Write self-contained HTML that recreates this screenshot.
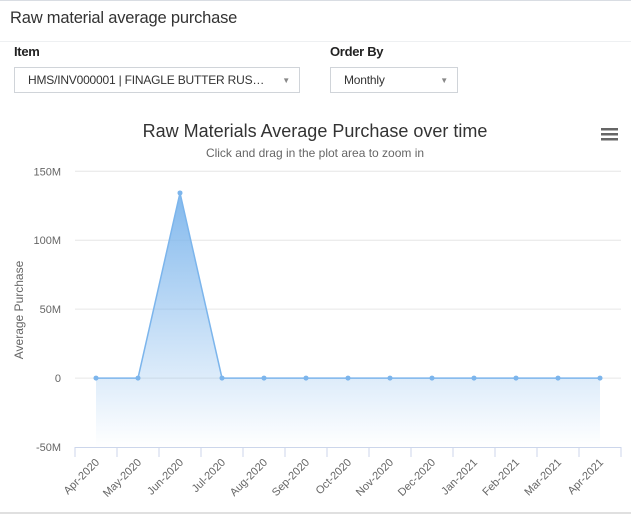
<!DOCTYPE html>
<html><head><meta charset="utf-8"><style>
body{margin:0;width:631px;height:514px;background:#fff;font-family:"Liberation Sans",sans-serif;overflow:hidden;position:relative}
.top{position:absolute;left:0;top:0;width:631px;height:1px;background:#d9dde3}
.hdr{position:absolute;left:10px;top:9px;font-size:16.5px;color:#333;letter-spacing:-0.2px}
.sep{position:absolute;left:0;top:41px;width:631px;height:1px;background:#eef0f2}
.lbl{position:absolute;top:44px;font-size:13px;font-weight:bold;color:#222;letter-spacing:-0.3px}
.sel{position:absolute;top:67px;height:26px;border:1px solid #d0d4d9;box-sizing:border-box;font-size:12px;color:#333;line-height:25px;padding-left:13px;letter-spacing:-0.2px;white-space:nowrap}
.sel .ar{position:absolute;right:9px;top:0;font-size:8px;color:#888}
.bot{position:absolute;left:0;top:512px;width:631px;height:2px;background:#e0e0e0}
</style></head><body>
<div class="top"></div>
<div class="hdr">Raw material average purchase</div>
<div class="sep"></div>
<div class="lbl" style="left:14px">Item</div>
<div class="lbl" style="left:330px">Order By</div>
<div class="sel" style="left:14px;width:286px">HMS/INV000001 | FINAGLE BUTTER RUS…<span class="ar">▼</span></div>
<div class="sel" style="left:330px;width:128px">Monthly<span class="ar">▼</span></div>
<svg id="chart" width="631" height="514" style="position:absolute;left:0;top:0">
<defs><linearGradient id="g" x1="0" y1="0" x2="0" y2="1"><stop offset="0" stop-color="#7cb5ec" stop-opacity="0.95"/><stop offset="1" stop-color="#7cb5ec" stop-opacity="0"/></linearGradient></defs>
<text x="315" y="137" text-anchor="middle" font-size="18" fill="#333">Raw Materials Average Purchase over time</text>
<text x="315" y="157" text-anchor="middle" font-size="12" fill="#666">Click and drag in the plot area to zoom in</text>
<g fill="#666"><rect x="601" y="128" width="17" height="2.5"/><rect x="601" y="133" width="17" height="2.5"/><rect x="601" y="138" width="17" height="2.5"/></g>
<text transform="translate(23,310) rotate(-90)" text-anchor="middle" font-size="12" fill="#666">Average Purchase</text>
<g id="grid"></g><g id="area"></g><g id="xaxis"></g>
</svg>
<div class="bot"></div>
<script>
const categories=["Apr-2020","May-2020","Jun-2020","Jul-2020","Aug-2020","Sep-2020","Oct-2020","Nov-2020","Dec-2020","Jan-2021","Feb-2021","Mar-2021","Apr-2021"];
const values=[0,0,134.3,0,0,0,0,0,0,0,0,0,0];
const yTicks=[-50,0,50,100,150];
const yTickLabels=["-50M","0","50M","100M","150M"];
const NS="http://www.w3.org/2000/svg";
const x0=75,x1=621,yTop=171.3,yBot=447;
const cw=(x1-x0)/categories.length;
function xs(i){return x0+cw*(i+0.5);}
function ys(v){return yBot-(v+50)/200*(yBot-yTop);}
function mk(t,a,p){const e=document.createElementNS(NS,t);for(const k in a)e.setAttribute(k,a[k]);p.appendChild(e);return e;}
const grid=document.getElementById('grid');
yTicks.forEach((v,i)=>{
  if(v!==-50){const l=mk('line',{x1:x0,x2:x1,y1:ys(v),y2:ys(v),stroke:'#e6e6e6'},grid);
  
  }
  const t=mk('text',{x:61,y:ys(v)+4,'text-anchor':'end','font-size':11,fill:'#666'},grid);
  t.textContent=yTickLabels[i];
  
  
});
const area=document.getElementById('area');
let pts=values.map((v,i)=>xs(i)+','+ys(v));
const fill=mk('polygon',{points:pts.join(' ')+' '+xs(values.length-1)+','+yBot+' '+xs(0)+','+yBot,fill:'url(#g)'},area);


const line=mk('polyline',{points:pts.join(' '),fill:'none',stroke:'#7cb5ec','stroke-width':1.5},area);


values.forEach((v,i)=>{const c=mk('circle',{cx:xs(i),cy:ys(v),r:2.5,fill:'#7cb5ec'},area);

});
const xa=document.getElementById('xaxis');
const al=mk('line',{x1:x0,x2:x1,y1:yBot+0.5,y2:yBot+0.5,stroke:'#ccd6eb'},xa);


for(let i=0;i<=categories.length;i++){const tk=mk('line',{x1:x0+cw*i,x2:x0+cw*i,y1:yBot,y2:yBot+10,stroke:'#ccd6eb'},xa);

}
categories.forEach((c,i)=>{const t=mk('text',{transform:'translate('+(xs(i)+4)+','+(yBot+16)+') rotate(-45)','text-anchor':'end','font-size':11,fill:'#666'},xa);
t.textContent=c;

});
</script>
</body></html>
